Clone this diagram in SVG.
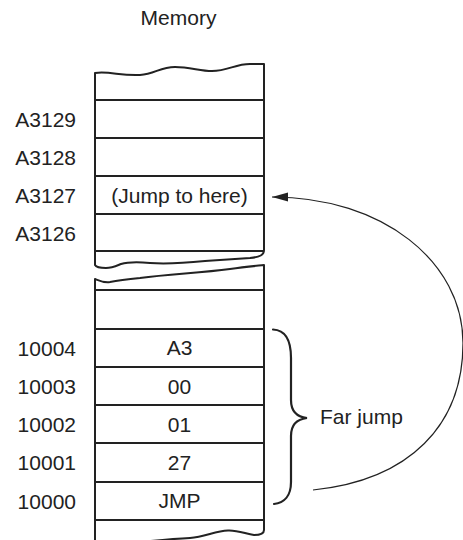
<svg xmlns="http://www.w3.org/2000/svg" width="463" height="540" viewBox="0 0 463 540">
  <style>
    text { font-family: "Liberation Sans", Arial, sans-serif; font-size: 21px; fill: #222; }
    .c { text-anchor: middle; }
    .r { text-anchor: end; }
    .box { fill: #fff; stroke: #222; stroke-width: 2; stroke-linejoin: round; }
    .row { stroke: #222; stroke-width: 2; fill: none; }
    .brace { stroke: #222; stroke-width: 2.2; fill: none; stroke-linecap: round; }
    .conn { stroke: #222; stroke-width: 1.2; fill: none; }
  </style>
  <defs>
    <marker id="ah" markerUnits="userSpaceOnUse" markerWidth="18" markerHeight="12" refX="16" refY="5" orient="auto">
      <path d="M0,0.5 L16,5 L0,9.5 Z" fill="#222"/>
    </marker>
  </defs>
  <rect width="463" height="540" fill="#fff"/>

  <g id="title">
    <text class="c" x="178.5" y="25">Memory</text>
  </g>

  <g id="memory-upper">
    <path class="box" d="M95,265 L95,73 C110,71 120,76 140,75 C155,74 160,67 175,67 C190,67 200,71 212,71 C228,71 235,64 250,64 L264,64 L264,250 C264,255 260,257 250,258 C235,259 220,260 205,261 C185,263 165,264 150,263 C138,262 128,262 121,264 C116,266 112,268 106,268 C100,268 96,267 95,265 Z"/>
    <path class="row" d="M95,100 H264 M95,138 H264 M95,176 H264 M95,214 H264 M95,251 H264"/>
  </g>

  <g id="memory-lower">
    <path class="box" d="M95,546 L95,279 C100,281 104,283 110,282 C120,280 130,279 140,278 C170,274 200,273 230,269 C245,267 255,266 264,265 L264,530 C264,534 260,535 254,535 C246,534 238,530 228,530.5 C215,531 205,537 190,538 C170,539 150,541 130,543 C115,545 100,545 95,546 Z"/>
    <path class="row" d="M95,290 H264 M95,329 H264 M95,367 H264 M95,405 H264 M95,443 H264 M95,482 H264 M95,520 H264"/>
  </g>

  <g id="cells">
    <text class="c" x="179.5" y="202.5">(Jump to here)</text>
    <text class="c" x="179.5" y="355">A3</text>
    <text class="c" x="179.5" y="393.5">00</text>
    <text class="c" x="179.5" y="431.5">01</text>
    <text class="c" x="179.5" y="470">27</text>
    <text class="c" x="179.5" y="508">JMP</text>
  </g>

  <g id="addresses">
    <text class="r" x="76" y="127">A3129</text>
    <text class="r" x="76" y="165">A3128</text>
    <text class="r" x="76" y="203">A3127</text>
    <text class="r" x="76" y="241">A3126</text>
    <text class="r" x="76" y="355.5">10004</text>
    <text class="r" x="76" y="393.5">10003</text>
    <text class="r" x="76" y="432">10002</text>
    <text class="r" x="76" y="470">10001</text>
    <text class="r" x="76" y="508.5">10000</text>
  </g>

  <g id="far-jump">
    <path class="brace" d="M273,329.5 C285,330 291,340 291,358 L291,400 C291,412 298,417 307,418 C298,419 291,424 291,436 L291,482 C291,496 284,503 274,504"/>
    <text x="320" y="424">Far jump</text>
  </g>

  <g id="connectors">
    <path class="conn" marker-end="url(#ah)" d="M313,490 C410,480 463,425 463,343 C463,262 383,197 272,197"/>
  </g>
</svg>
